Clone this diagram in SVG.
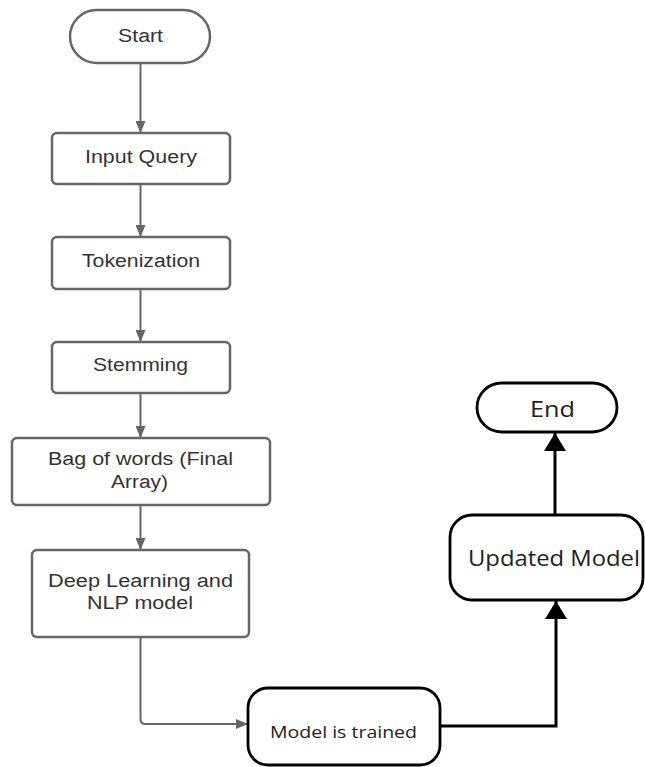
<svg xmlns="http://www.w3.org/2000/svg" width="645" height="767" viewBox="0 0 645 767">
<defs>
<style>
.g{fill:#fff;stroke:#666;stroke-width:2.5}
.b{fill:#fff;stroke:#000;stroke-width:2.8}
.gt{font-family:"Liberation Sans",Arial,sans-serif;font-size:18px;fill:#333;text-anchor:middle}
.bt{font-family:"Open Sans","Noto Sans",sans-serif;fill:#222;text-anchor:middle}
.gl{fill:none;stroke:#666;stroke-width:2}
.bl{fill:none;stroke:#000;stroke-width:3}
</style>
<marker id="ga" viewBox="0 0 12 10" refX="12" refY="5" markerWidth="12" markerHeight="10" markerUnits="userSpaceOnUse" orient="auto">
<path d="M0,0 L12,5 L0,10 Z" fill="#666"/>
</marker>
<marker id="ba" viewBox="0 0 18 22" refX="18" refY="11" markerWidth="18" markerHeight="22" markerUnits="userSpaceOnUse" orient="auto">
<path d="M0,0 L18,11 L0,22 Z" fill="#000"/>
</marker>
</defs>
<rect width="645" height="767" fill="#fff"/>
<g id="connectors">
<line class="gl" x1="140.5" y1="63" x2="140.5" y2="133" marker-end="url(#ga)"/>
<line class="gl" x1="140.5" y1="184" x2="140.5" y2="237" marker-end="url(#ga)"/>
<line class="gl" x1="140.5" y1="289" x2="140.5" y2="342" marker-end="url(#ga)"/>
<line class="gl" x1="140.5" y1="393" x2="140.5" y2="438" marker-end="url(#ga)"/>
<line class="gl" x1="140.5" y1="505" x2="140.5" y2="550" marker-end="url(#ga)"/>
<path class="gl" d="M140.5,637 L140.5,719 Q140.5,724 145.5,724 L248,724" marker-end="url(#ga)"/>
<path class="bl" d="M440,726 L556,726 L556,601" marker-end="url(#ba)"/>
<line class="bl" x1="555" y1="515" x2="555" y2="433" marker-end="url(#ba)"/>
</g>
<g id="start">
<rect class="g" x="70" y="10" width="140" height="53" rx="26.5"/>
<text class="gt" x="140.5" y="42" textLength="45" lengthAdjust="spacingAndGlyphs">Start</text>
</g>
<g id="input-query">
<rect class="g" x="52" y="133" width="178" height="51" rx="5"/>
<text class="gt" x="141" y="163" textLength="112" lengthAdjust="spacingAndGlyphs">Input Query</text>
</g>
<g id="tokenization">
<rect class="g" x="52" y="237" width="178" height="52" rx="5"/>
<text class="gt" x="141" y="267" textLength="118" lengthAdjust="spacingAndGlyphs">Tokenization</text>
</g>
<g id="stemming">
<rect class="g" x="52" y="342" width="178" height="51" rx="5"/>
<text class="gt" x="140.5" y="371" textLength="95" lengthAdjust="spacingAndGlyphs">Stemming</text>
</g>
<g id="bag-of-words">
<rect class="g" x="12" y="438" width="258" height="67" rx="5"/>
<text class="gt" x="140.5" y="465" textLength="185" lengthAdjust="spacingAndGlyphs">Bag of words (Final</text>
<text class="gt" x="139.5" y="488" textLength="57" lengthAdjust="spacingAndGlyphs">Array)</text>
</g>
<g id="deep-learning">
<rect class="g" x="32" y="550" width="217" height="87" rx="5"/>
<text class="gt" x="140.5" y="587" textLength="185" lengthAdjust="spacingAndGlyphs">Deep Learning and</text>
<text class="gt" x="140" y="609" textLength="106" lengthAdjust="spacingAndGlyphs">NLP model</text>
</g>
<g id="model-trained">
<rect class="b" x="248" y="688" width="192" height="77" rx="20"/>
<text class="bt" x="343.5" y="738" font-size="16" textLength="147" lengthAdjust="spacingAndGlyphs">Model is trained</text>
</g>
<g id="updated-model">
<rect class="b" x="450" y="515" width="193" height="85" rx="22"/>
<text class="bt" x="554" y="566" font-size="21" textLength="172" lengthAdjust="spacingAndGlyphs">Updated Model</text>
</g>
<g id="end">
<rect class="b" x="477" y="383" width="140" height="49" rx="24.5"/>
<text class="bt" x="552.5" y="417" font-size="21" textLength="45" lengthAdjust="spacingAndGlyphs">End</text>
</g>
</svg>
